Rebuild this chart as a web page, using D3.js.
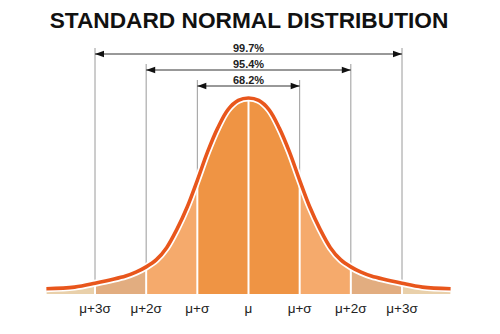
<!DOCTYPE html>
<html>
<head>
<meta charset="utf-8">
<script src="https://cdn.jsdelivr.net/npm/d3@7"></script>
<style>
  html, body { margin: 0; padding: 0; background: #fff; }
  svg { display: block; }
</style>
</head>
<body>
<div id="chart"></div>
<script>
// ---- data ----
const zPoints = [-3.95,-3.4,-3.0,-2.4,-2.2,-2.0,-1.8,-1.6,-1.4,-1.2,-1.0,-0.8,-0.6,-0.4,-0.2,0,
                 0.2,0.4,0.6,0.8,1.0,1.2,1.4,1.6,1.8,2.0,2.2,2.4,3.0,3.4,3.95];
const density = [0.0025,0.006,0.014,0.029,0.037,0.048,0.063,0.088,0.126,0.172,0.228,0.287,0.337,0.375,0.394,0.399,
                 0.394,0.375,0.337,0.287,0.228,0.172,0.126,0.088,0.063,0.048,0.037,0.029,0.014,0.006,0.0025];
const bandStarts = [-3.95,-3,-2,-1,0,1,2,3];
const bandEnds   = [-3,-2,-1,0,1,2,3,3.95];
const bandColors = ["#e9d0aa","#e2ad80","#f5aa6c","#ef9444","#ef9444","#f5aa6c","#e2ad80","#e9d0aa"];
const sigmaTicks = [-3,-2,-1,0,1,2,3];
const tickLabels = ["μ+3σ","μ+2σ","μ+σ","μ","μ+σ","μ+2σ","μ+3σ"];
const spanSigmas = [1,2,3];
const spanLabels = ["68.2%","95.4%","99.7%"];
const title = "STANDARD NORMAL DISTRIBUTION";

// ---- drawing ----
const W = 500, H = 334;
const svg = d3.select("#chart").append("svg").attr("width", W).attr("height", H);

const x = d3.scaleLinear().domain([-3, 3]).range([95, 402]);
const y = d3.scaleLinear().domain([0, 0.399]).range([290, 98]);
const fillBottom = 294;
const spanY = d3.scaleLinear().domain([1, 3]).range([86, 54]);

const pts = zPoints.map((z, i) => ({z, d: density[i]}));
const dAt = z => density[zPoints.indexOf(z)];
const curve = d3.curveCatmullRom.alpha(0.5);

// title
svg.append("text")
  .attr("x", 249).attr("y", 28)
  .attr("text-anchor", "middle")
  .style("font-family", "'Liberation Sans', Arial, sans-serif")
  .style("font-weight", "bold").style("font-size", "22.7px")
  .attr("fill", "#111")
  .text(title);

// bands
const area = d3.area().x(p => x(p.z)).y0(fillBottom).y1(p => y(p.d)).curve(curve);
const defs = svg.append("defs");
bandStarts.forEach((a, i) => {
  const id = "band" + i;
  defs.append("clipPath").attr("id", id)
    .append("rect")
    .attr("x", x(a)).attr("y", 0)
    .attr("width", x(bandEnds[i]) - x(a)).attr("height", H);
  svg.append("path").datum(pts)
    .attr("clip-path", `url(#${id})`)
    .attr("fill", bandColors[i])
    .attr("d", area);
});

// white separators inside fill
svg.selectAll(".sep").data(sigmaTicks).join("line")
  .attr("x1", d => x(d)).attr("x2", d => x(d))
  .attr("y1", fillBottom + 1).attr("y2", d => y(dAt(d)))
  .attr("stroke", "#fff").attr("stroke-width", 2);

// gray guide lines above curve
spanSigmas.forEach(k => {
  [-k, k].forEach(s => {
    svg.append("line")
      .attr("x1", x(s)).attr("x2", x(s))
      .attr("y1", spanY(k) - 6).attr("y2", y(dAt(s)))
      .attr("stroke", "#9a9a9a").attr("stroke-width", 1);
  });
});

// curve: white gap + orange stroke
const line = d3.line().x(p => x(p.z)).y(p => y(p.d)).curve(curve);
svg.append("path").datum(pts).attr("d", line)
  .attr("fill", "none").attr("stroke", "#fff").attr("stroke-width", 7);
svg.append("path").datum(pts).attr("d", line)
  .attr("fill", "none").attr("stroke", "#e8561c").attr("stroke-width", 3.6)
  .attr("stroke-linecap", "butt");

// span arrows
spanSigmas.forEach((k, i) => {
  const ay = spanY(k), x1 = x(-k), x2 = x(k);
  svg.append("line").attr("x1", x1).attr("x2", x2).attr("y1", ay).attr("y2", ay)
    .attr("stroke", "#333").attr("stroke-width", 1);
  svg.append("path")
    .attr("d", `M${x1},${ay}L${x1+9},${ay-3.2}L${x1+9},${ay+3.2}Z`).attr("fill", "#111");
  svg.append("path")
    .attr("d", `M${x2},${ay}L${x2-9},${ay-3.2}L${x2-9},${ay+3.2}Z`).attr("fill", "#111");
  svg.append("text")
    .attr("x", x(0)).attr("y", ay - 2.5)
    .attr("text-anchor", "middle")
    .style("font-family", "'Liberation Sans', Arial, sans-serif")
    .style("font-weight", "bold").style("font-size", "11px")
    .attr("fill", "#222")
    .text(spanLabels[i]);
});

// bottom labels
svg.selectAll(".tick").data(sigmaTicks).join("text")
  .attr("x", d => x(d)).attr("y", 312.5)
  .attr("text-anchor", "middle")
  .style("font-family", "'Liberation Sans', Arial, sans-serif")
  .style("font-size", "13.5px")
  .attr("fill", "#222")
  .text((d, i) => tickLabels[i]);
</script>
</body>
</html>
